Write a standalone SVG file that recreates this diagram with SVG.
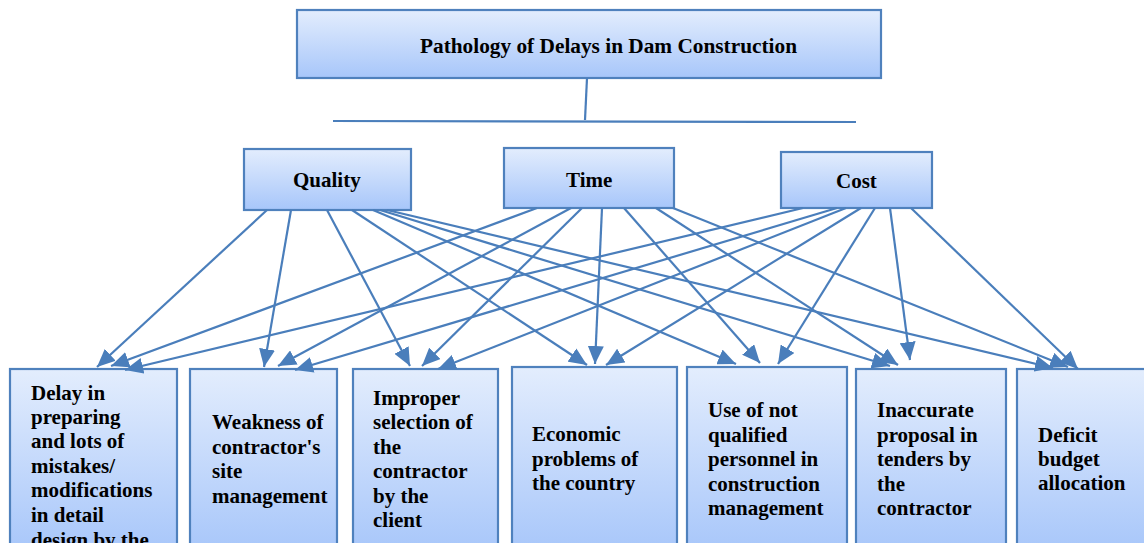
<svg xmlns="http://www.w3.org/2000/svg" width="1144" height="543" viewBox="0 0 1144 543">
  <defs>
    <linearGradient id="boxFill" x1="0" y1="0" x2="0" y2="1">
      <stop offset="0" stop-color="#e3edfd"/>
      <stop offset="1" stop-color="#a7c6fa"/>
    </linearGradient>
    <marker id="arrow" markerUnits="userSpaceOnUse" markerWidth="19" markerHeight="16" refX="18" refY="8" orient="auto">
      <path d="M0,0 L18,8 L0,16 z" fill="#4a7ebb"/>
    </marker>
    <style>
      .box { fill: url(#boxFill); stroke: #4f81bd; stroke-width: 2.2; }
      .lbl { font-family: "Liberation Serif", "Times New Roman", serif; font-weight: bold; font-size: 21px; fill: #000; }
      .head { font-size: 20px; }
      .link { stroke: #4a7ebb; stroke-width: 2.2; fill: none; }
      .arr { stroke: #4a7ebb; stroke-width: 2.2; fill: none; marker-end: url(#arrow); }
    </style>
  </defs>

  <rect width="1144" height="543" fill="#ffffff"/>

  <!-- top level -->
  <g id="title">
    <rect class="box" x="297" y="10" width="584" height="68"/>
    <text class="lbl head" x="420" y="53" textLength="377" lengthAdjust="spacingAndGlyphs">Pathology of Delays in Dam Construction</text>
  </g>

  <!-- second level -->
  <g id="quality">
    <rect class="box" x="244" y="149" width="167" height="61"/>
    <text class="lbl" x="293" y="187">Quality</text>
  </g>
  <g id="time">
    <rect class="box" x="504" y="148" width="170" height="60"/>
    <text class="lbl" x="566" y="187">Time</text>
  </g>
  <g id="cost">
    <rect class="box" x="781" y="152" width="151" height="56"/>
    <text class="lbl" x="836" y="188">Cost</text>
  </g>

  <!-- causes -->
  <g id="cause1">
    <rect class="box" x="10" y="369" width="167" height="185"/>
    <text class="lbl" x="31" y="400">Delay in</text>
    <text class="lbl" x="31" y="424">preparing</text>
    <text class="lbl" x="31" y="448">and lots of</text>
    <text class="lbl" x="31" y="473">mistakes/</text>
    <text class="lbl" x="31" y="497">modifications</text>
    <text class="lbl" x="31" y="522">in detail</text>
    <text class="lbl" x="31" y="547">design by the</text>
  </g>
  <g id="cause2">
    <rect class="box" x="190" y="369" width="147" height="185"/>
    <text class="lbl" x="212" y="429">Weakness of</text>
    <text class="lbl" x="212" y="454">contractor's</text>
    <text class="lbl" x="212" y="478">site</text>
    <text class="lbl" x="212" y="503">management</text>
  </g>
  <g id="cause3">
    <rect class="box" x="353" y="369" width="145" height="185"/>
    <text class="lbl" x="373" y="405">Improper</text>
    <text class="lbl" x="373" y="429">selection of</text>
    <text class="lbl" x="373" y="454">the</text>
    <text class="lbl" x="373" y="478">contractor</text>
    <text class="lbl" x="373" y="503">by the</text>
    <text class="lbl" x="373" y="527">client</text>
  </g>
  <g id="cause4">
    <rect class="box" x="512" y="367" width="165" height="187"/>
    <text class="lbl" x="532" y="441">Economic</text>
    <text class="lbl" x="532" y="466">problems of</text>
    <text class="lbl" x="532" y="490">the country</text>
  </g>
  <g id="cause5">
    <rect class="box" x="687" y="367" width="160" height="187"/>
    <text class="lbl" x="708" y="417">Use of not</text>
    <text class="lbl" x="708" y="442">qualified</text>
    <text class="lbl" x="708" y="466">personnel in</text>
    <text class="lbl" x="708" y="491">construction</text>
    <text class="lbl" x="708" y="515">management</text>
  </g>
  <g id="cause6">
    <rect class="box" x="856" y="369" width="150" height="185"/>
    <text class="lbl" x="877" y="417">Inaccurate</text>
    <text class="lbl" x="877" y="442">proposal in</text>
    <text class="lbl" x="877" y="466">tenders by</text>
    <text class="lbl" x="877" y="491">the</text>
    <text class="lbl" x="877" y="515">contractor</text>
  </g>
  <g id="cause7">
    <rect class="box" x="1017" y="369" width="140" height="185"/>
    <text class="lbl" x="1038" y="442">Deficit</text>
    <text class="lbl" x="1038" y="466">budget</text>
    <text class="lbl" x="1038" y="490">allocation</text>
  </g>

  <g id="connectors">
    <!-- title to bar -->
    <line class="link" x1="587" y1="78" x2="585" y2="120"/>
    <line class="link" x1="333" y1="121" x2="856" y2="122"/>

    <!-- quality -->
    <line class="arr" x1="267" y1="210" x2="97" y2="367"/>
    <line class="arr" x1="291" y1="210" x2="264" y2="367"/>
    <line class="arr" x1="327" y1="210" x2="410" y2="366"/>
    <line class="arr" x1="352" y1="210" x2="587" y2="365"/>
    <line class="arr" x1="373" y1="210" x2="736" y2="364"/>
    <line class="arr" x1="380" y1="210" x2="890" y2="366"/>
    <line class="arr" x1="387" y1="210" x2="1053" y2="368"/>

    <!-- time -->
    <line class="arr" x1="537" y1="208" x2="111" y2="366"/>
    <line class="arr" x1="571" y1="208" x2="278" y2="366"/>
    <line class="arr" x1="582" y1="208" x2="422" y2="366"/>
    <line class="arr" x1="602" y1="208" x2="595" y2="364"/>
    <line class="arr" x1="624" y1="208" x2="760" y2="363"/>
    <line class="arr" x1="656" y1="208" x2="898" y2="365"/>
    <line class="arr" x1="673" y1="208" x2="1068" y2="367"/>

    <!-- cost -->
    <line class="arr" x1="803" y1="208" x2="125" y2="370"/>
    <line class="arr" x1="837" y1="208" x2="295" y2="370"/>
    <line class="arr" x1="846" y1="208" x2="438" y2="369"/>
    <line class="arr" x1="861" y1="208" x2="606" y2="365"/>
    <line class="arr" x1="875" y1="208" x2="778" y2="364"/>
    <line class="arr" x1="890" y1="208" x2="910" y2="360"/>
    <line class="arr" x1="911" y1="208" x2="1078" y2="369"/>
  </g>
</svg>
